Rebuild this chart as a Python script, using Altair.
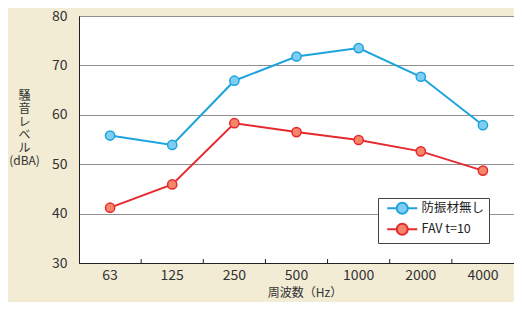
import altair as alt
import pandas as pd

freqs = ["63", "125", "250", "500", "1000", "2000", "4000"]
series_names = ["防振材無し", "FAV t=10"]
no_damper = [55.8, 53.9, 66.9, 71.8, 73.5, 67.7, 57.9]
fav_t10 = [41.2, 45.9, 58.3, 56.5, 54.9, 52.6, 48.7]
y_ticks = [30, 40, 50, 60, 70, 80]
line_colors = ["#1ea4dc", "#e52a2f"]
fill_colors = ["#7fcdf2", "#f6866a"]

rows = []
for f, a, b in zip(freqs, no_damper, fav_t10):
    rows.append({"freq": f, "series": series_names[0], "value": a})
    rows.append({"freq": f, "series": series_names[1], "value": b})
df = pd.DataFrame(rows)
ticks_df = pd.DataFrame({"freq": freqs[1:]})

FONT = "Noto Sans CJK JP"
sym_path = "M-3,0H-1.1M1.1,0H3M1.1,0A1.1,1.1,0,1,1,-1.1,0A1.1,1.1,0,1,1,1.1,0Z"

PLOT_W = 435
PLOT_H = 247
x_scale = alt.Scale(type="band", domain=freqs, paddingInner=0, paddingOuter=0)

x_enc = alt.X(
    "freq:N",
    sort=freqs,
    scale=x_scale,
    axis=alt.Axis(
        title="周波数（Hz）",
        labelAngle=0,
        ticks=False,
        tickSize=0,
        labelPadding=5,
        labelFontSize=14,
        labelColor="#333333",
        titleFontSize=12,
        titleFontWeight="normal",
        titleColor="#333333",
        titlePadding=5,
        titleX=PLOT_W / 2 + 8,
        domainColor="#222222",
        labelFont=FONT,
        titleFont=FONT,
    ),
)
y_enc = alt.Y(
    "value:Q",
    scale=alt.Scale(domain=[30, 80], nice=False, zero=False),
    axis=alt.Axis(
        values=y_ticks,
        title=["騒", "音", "レ", "ベ", "ル", "(dBA)"],
        titleAngle=0,
        titleX=-55,
        titleY=74,
        titleBaseline="top",
        titleAlign="center",
        titleFontSize=12,
        titleLineHeight=13,
        titleFontWeight="normal",
        titleColor="#333333",
        ticks=False,
        tickSize=0,
        labelPadding=12,
        labelFontSize=14,
        labelColor="#333333",
        grid=True,
        gridColor="#8f8f8f",
        gridWidth=1,
        domainColor="#222222",
        labelFont=FONT,
        titleFont=FONT,
    ),
)

leg = alt.Legend(
    title=None,
    orient="none",
    legendX=299,
    legendY=182,
    symbolType=sym_path,
    symbolSize=100,
    symbolStrokeWidth=2,
    symbolOffset=14,
    labelFontSize=12.5,
    labelFont=FONT,
    labelColor="#222222",
    labelOffset=13,
    fillColor="#ffffff",
    strokeColor="#444444",
    padding=4,
    rowPadding=1,
)

stroke_scale = alt.Scale(domain=series_names, range=line_colors)
fill_scale = alt.Scale(domain=series_names, range=fill_colors)

lines = alt.Chart(df).mark_line(strokeWidth=2).encode(
    x=x_enc,
    y=y_enc,
    stroke=alt.Stroke("series:N", scale=stroke_scale, sort=series_names, legend=leg),
    detail="series:N",
)

points = alt.Chart(df).mark_point(shape="circle", filled=True, size=85, strokeWidth=1.5, opacity=1).encode(
    x=x_enc,
    y=y_enc,
    stroke=alt.Stroke("series:N", scale=stroke_scale, sort=series_names, legend=leg),
    fill=alt.Fill("series:N", scale=fill_scale, sort=series_names, legend=leg),
)

ticks = alt.Chart(ticks_df).mark_rule(color="#222222", strokeWidth=1, xOffset=-PLOT_W / 14).encode(
    x=alt.X("freq:N", sort=freqs),
    y=alt.value(PLOT_H - 4),
    y2=alt.value(PLOT_H),
)

chart = alt.layer(lines, points, ticks).properties(
    width=PLOT_W,
    height=PLOT_H,
    autosize=alt.AutoSizeParams(type="none"),
    padding={"left": 71, "top": 8, "right": 0, "bottom": 39},
    background="#f2ecd5",
).configure_view(
    fill="#ffffff", stroke="#222222", strokeWidth=1
).configure_axis(
    labelFont=FONT, titleFont=FONT
).configure_legend(
    labelFont=FONT
)

chart.save("out.html", embed_options={"renderer": "svg", "actions": False})
